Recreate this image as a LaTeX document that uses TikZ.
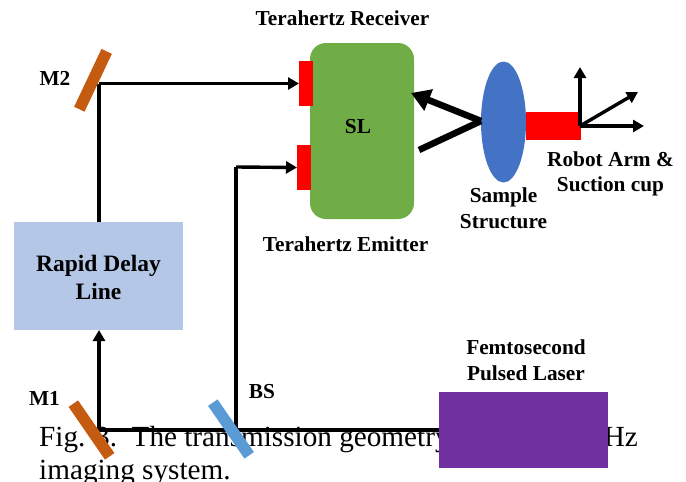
\documentclass[tikz,border=0pt]{standalone}
\usepackage{fontspec}
\setmainfont{Liberation Serif}
\usetikzlibrary{arrows.meta,shapes.geometric}
\definecolor{mirror}{HTML}{C55A11}
\definecolor{splitter}{HTML}{5B9BD5}
\definecolor{delay}{HTML}{B4C7E7}
\definecolor{slgreen}{HTML}{70AD47}
\definecolor{sample}{HTML}{4472C4}
\definecolor{laser}{HTML}{7030A0}
\tikzset{
  x=1pt,y=-1pt,
  lbl/.style={font=\fontsize{21.3}{25.5}\selectfont\bfseries,align=center,inner sep=0pt,text=black},
  captxt/.style={font=\fontsize{29.2}{33}\selectfont,anchor=base west,inner sep=0pt},
  block/.style={draw=none,inner sep=0pt,outer sep=0pt,rectangle},
  plate/.style={block,minimum width=64pt,minimum height=11.5pt},
  beam/.style={draw=black,line width=3.4pt,-{Triangle[length=11pt,width=12pt]}},
  plainbeam/.style={draw=black,line width=3.4pt},
  thz/.style={draw=black,line width=6.5pt},
}
\begin{document}
\begin{tikzpicture}
\useasboundingbox (0,0) rectangle (686,482);
% caption lies under the drawing
\node[captxt] (capa) at (39,446) {Fig. 3.\ \ The transmission geometry};
\node[captxt,anchor=base east] (capc) at (638,446) {Hz};
\node[captxt] (capb) at (39,479) {imaging system.};
% coordinates
\coordinate (j1) at (99,430);
\coordinate (j2) at (99,83.5);
\coordinate (j3) at (236,430);
\coordinate (j4) at (236,167);
\coordinate (apex) at (481,121);
\coordinate (thzend) at (419,150);
\coordinate (thztip) at (411,93);
\coordinate (axo) at (580,126);
\coordinate (axu) at (580,67);
\coordinate (axr) at (644,126);
\coordinate (axd) at (638,92);
% blocks
\node[block,fill=slgreen,rounded corners=16pt,minimum width=104pt,minimum height=176pt] (sl) at (362,131) {};
\node[lbl] (sllabel) at (358,127) {SL};
\node[block,fill=red,minimum width=14pt,minimum height=45pt] (rx) at (306,83.5) {};
\node[block,fill=red,minimum width=14pt,minimum height=45pt] (tx) at (304,167.5) {};
\node[block,fill=delay,minimum width=169pt,minimum height=108pt] (rdl) at (98.5,276) {};
\node[lbl,font=\fontsize{23.5}{28.5}\selectfont\bfseries] (rdltext) at (98.5,277.5) {Rapid Delay\\Line};
\node[block,fill=laser,minimum width=169pt,minimum height=76pt] (las) at (523.5,430) {};
% beams
\draw[plainbeam] (las.west |- j1) -- (j1);
\draw[beam] (j1) -- (rdl.south -| j1);
\draw[plainbeam] (rdl.north -| j2) -- (j2);
\draw[beam] (j2) -- (rx.west);
\draw[plainbeam] (j3) -- (j4);
\draw[beam] (j4) -- (tx.west);
% plates
\node[plate,fill=mirror,rotate=64.7] (m2) at (93,80.3) {};
\node[plate,fill=mirror,rotate=-55.4] (m1) at (91.5,430) {};
\node[plate,fill=splitter,rotate=-55.4] (bs) at (231,429) {};
% robot arm and sample
\node[block,fill=red,minimum width=55pt,minimum height=28pt] (cup) at (553.5,126) {};
\node[block,ellipse,fill=sample,minimum width=45pt,minimum height=121pt] (smp) at (503.5,122) {};
\draw[thz] (thzend) -- (apex);
\draw[thz,-{Triangle[length=19pt,width=22pt]}] (apex) -- (thztip);
\draw[beam] (axo) -- (axu);
\draw[beam] (axo) -- (axr);
\draw[beam] (axo) -- (axd);
% labels
\node[lbl] (t1) at (342.5,18) {Terahertz Receiver};
\node[lbl] (t2) at (345.5,244) {Terahertz Emitter};
\node[lbl] (t3) at (55,78) {M2};
\node[lbl] (t4) at (44.5,398) {M1};
\node[lbl] (t5) at (262,392) {BS};
\node[lbl] (t6) at (503.5,208) {Sample\\Structure};
\node[lbl] (t7) at (610.5,174) {Robot Arm \&\\Suction cup};
\node[lbl] (t8) at (526,360) {Femtosecond\\Pulsed Laser};
\end{tikzpicture}
\end{document}
